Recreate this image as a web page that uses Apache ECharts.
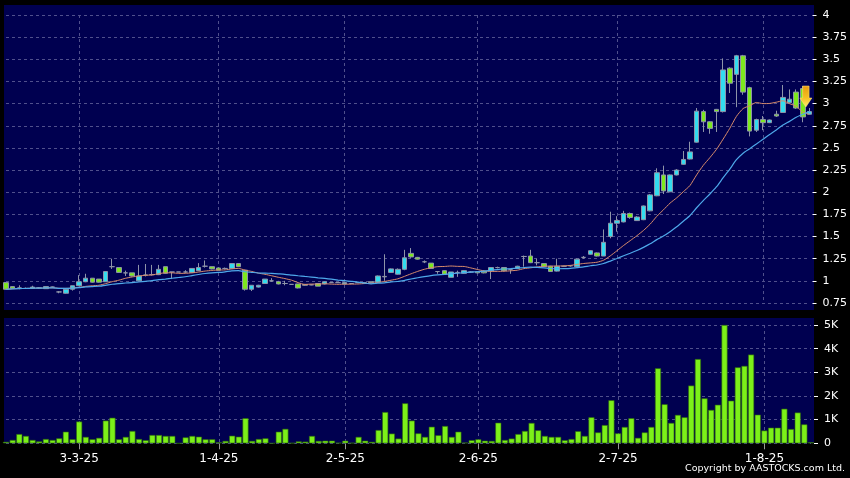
<!DOCTYPE html>
<html>
<head>
<meta charset="utf-8">
<script src="https://cdn.jsdelivr.net/npm/echarts@6/dist/echarts.min.js"></script>
<style>html,body{margin:0;padding:0;background:#000;}#c{width:850px;height:478px;}</style>
</head>
<body>
<div id="c"></div>
<script>
const dates = ['14-2-25','17-2-25','18-2-25','19-2-25','20-2-25','21-2-25','24-2-25','25-2-25','26-2-25','27-2-25','28-2-25',
'3-3-25','4-3-25','5-3-25','6-3-25','7-3-25','10-3-25','11-3-25','12-3-25','13-3-25','14-3-25','17-3-25','18-3-25','19-3-25','20-3-25','21-3-25','24-3-25','25-3-25','26-3-25','27-3-25','28-3-25','31-3-25',
'1-4-25','2-4-25','3-4-25','7-4-25','8-4-25','9-4-25','10-4-25','11-4-25','14-4-25','15-4-25','16-4-25','17-4-25','22-4-25','23-4-25','24-4-25','25-4-25','28-4-25','29-4-25','30-4-25',
'2-5-25','6-5-25','7-5-25','8-5-25','9-5-25','12-5-25','13-5-25','14-5-25','15-5-25','16-5-25','19-5-25','20-5-25','21-5-25','22-5-25','23-5-25','26-5-25','27-5-25','28-5-25','29-5-25','30-5-25',
'2-6-25','3-6-25','4-6-25','5-6-25','6-6-25','9-6-25','10-6-25','11-6-25','12-6-25','13-6-25','16-6-25','17-6-25','18-6-25','19-6-25','20-6-25','23-6-25','24-6-25','25-6-25','26-6-25','27-6-25','30-6-25',
'2-7-25','3-7-25','4-7-25','7-7-25','8-7-25','9-7-25','10-7-25','11-7-25','14-7-25','15-7-25','16-7-25','17-7-25','18-7-25','21-7-25','22-7-25','23-7-25','24-7-25','25-7-25','28-7-25','29-7-25','30-7-25','31-7-25',
'1-8-25','4-8-25','5-8-25','6-8-25','7-8-25','8-8-25','11-8-25','12-8-25'];

const open = [.98,.935,.92,.915,.915,.92,.912,.93,.875,.86,.905,
.945,.99,1.03,1.02,.99,1.16,1.15,1.09,1.09,1.0,1.065,1.07,1.07,1.16,1.1,1.1,1.1,1.095,1.115,1.165,1.16,
1.145,1.14,1.14,1.195,1.12,.905,.93,.97,1.0,.99,.97,.96,.965,.96,.955,.97,.965,.98,.98,
.965,.97,.98,.98,.99,.985,1.05,1.095,1.075,1.13,1.31,1.265,1.215,1.2,1.105,1.115,1.04,1.095,1.085,1.1,
1.105,1.11,1.115,1.15,1.15,1.13,1.14,1.275,1.28,1.205,1.195,1.165,1.11,1.165,1.17,1.16,1.265,1.3,1.315,1.28,1.5,
1.65,1.665,1.76,1.68,1.69,1.79,1.96,2.195,2.005,2.195,2.315,2.375,2.565,2.91,2.795,2.935,2.91,3.4,3.33,3.54,3.18,2.70,
2.82,2.785,2.88,2.90,3.01,3.13,3.17,2.88];
const close = [.905,.915,.92,.915,.93,.92,.935,.93,.875,.905,.945,
.99,1.03,.985,.985,1.105,1.16,1.095,1.09,1.055,1.055,1.065,1.07,1.13,1.085,1.1,1.1,1.1,1.14,1.15,1.165,1.135,
1.12,1.14,1.195,1.16,.905,.95,.95,1.02,1.0,.965,.97,.96,.92,.95,.955,.94,.99,.98,.98,
.98,.97,.98,.97,.98,1.055,1.045,1.135,1.13,1.26,1.27,1.245,1.215,1.14,1.105,1.075,1.1,1.095,1.115,1.1,
1.09,1.09,1.15,1.15,1.115,1.13,1.165,1.275,1.205,1.205,1.16,1.105,1.165,1.165,1.17,1.245,1.265,1.34,1.28,1.435,1.65,
1.68,1.76,1.715,1.72,1.845,1.97,2.22,2.015,2.195,2.25,2.37,2.455,2.915,2.795,2.72,2.91,3.38,3.23,3.54,3.13,2.69,2.82,
2.785,2.815,2.86,3.07,3.05,2.95,2.85,2.91];
const low = [.90,.91,.905,.91,.91,.91,.91,.925,.86,.855,.89,
.94,.985,.98,.98,.99,1.135,1.09,1.055,1.05,1.0,1.05,1.06,1.065,1.08,1.02,1.1,1.09,1.09,1.11,1.15,1.13,
1.12,1.13,1.14,1.16,.89,.885,.925,.97,.99,.96,.95,.96,.915,.945,.95,.94,.96,.975,.98,
.96,.97,.975,.965,.975,.98,1.0,1.09,1.07,1.12,1.26,1.24,1.2,1.135,1.08,1.07,1.04,1.045,1.08,1.09,
1.085,1.085,1.02,1.14,1.11,1.08,1.135,1.16,1.2,1.175,1.155,1.1,1.105,1.16,1.16,1.155,1.25,1.295,1.275,1.28,1.48,
1.555,1.66,1.7,1.675,1.685,1.785,1.955,1.98,2.0,2.19,2.31,2.37,2.56,2.68,2.66,2.68,2.9,3.12,2.96,3.1,2.63,2.68,
2.7,2.78,2.85,2.9,3.0,2.94,2.79,2.88];
const high = [.985,.94,.95,.925,.945,.93,.935,.935,.885,.905,.945,
1.065,1.08,1.03,1.02,1.105,1.25,1.15,1.115,1.09,1.18,1.19,1.18,1.18,1.16,1.1,1.1,1.12,1.14,1.2,1.23,1.16,
1.15,1.15,1.195,1.2,1.12,.95,.955,1.02,1.03,1.0,1.0,.96,.965,.965,.96,.97,.99,.985,.98,
.985,.97,.985,.98,.99,1.06,1.3,1.14,1.14,1.35,1.37,1.27,1.23,1.2,1.11,1.12,1.1,1.115,1.12,1.11,
1.11,1.115,1.155,1.16,1.155,1.135,1.17,1.285,1.35,1.25,1.2,1.17,1.25,1.17,1.175,1.25,1.28,1.345,1.32,1.58,1.78,
1.73,1.79,1.77,1.73,1.85,1.98,2.27,2.3,2.2,2.26,2.465,2.57,2.95,2.93,2.80,2.94,3.51,3.41,3.55,3.55,3.19,2.83,
2.86,2.82,2.92,3.21,3.16,3.16,3.2,2.95];
const volume = [60,140,390,310,140,80,180,140,210,490,170,
920,270,170,230,960,1080,170,270,520,180,130,350,350,310,310,0,250,310,280,170,170,
40,100,320,280,1060,100,180,210,0,490,610,10,80,70,310,100,110,110,20,
110,20,270,110,60,560,1320,410,200,1690,960,420,270,700,340,730,270,490,30,130,
170,110,100,870,140,200,390,520,860,550,310,270,270,130,180,510,310,1100,460,770,1820,
420,690,1060,230,460,690,3170,1650,860,1200,1100,2440,3560,1900,1410,1630,5000,1800,3210,3270,3750,1210,
540,660,660,1460,600,1300,800,40];
const priceTicks = {min: 0.75, max: 4, step: 0.25};
const volTicks = {min: 0, max: 5000, step: 1000};
const maPeriods = [10, 20];

function sma(vals, n) {
  return vals.map((v, i) => {
    const s = Math.max(0, i - n + 1);
    const w = vals.slice(s, i + 1);
    return +(w.reduce((a, b) => a + b, 0) / w.length).toFixed(4);
  });
}
function isMonthStart(i) {
  if (i <= 0) return false;
  return dates[i].split('-')[1] !== dates[i - 1].split('-')[1];
}
const kData = dates.map((d, i) => [open[i], close[i], low[i], high[i]]);
const gridLine = {show: true, lineStyle: {color: '#50508c', type: [3, 3], width: 1}};
const font = 'DejaVu Sans';

const chart = echarts.init(document.getElementById('c'));
chart.setOption({
  backgroundColor: '#000',
  animation: false,
  graphic: [
    {type: 'rect', z: -10, silent: true, shape: {x: 4, y: 5, width: 810, height: 305}, style: {fill: '#000050'}},
    {type: 'rect', z: -10, silent: true, shape: {x: 4, y: 318, width: 810, height: 125.3}, style: {fill: '#000050'}},
    {type: 'text', z: 10, right: 5, top: 464, style: {text: 'Copyright by AASTOCKS.com Ltd.', fill: '#fff', font: '9.5px "DejaVu Sans"'}}
  ],
  grid: [
    {left: 6, right: 39, top: 15, height: 288},
    {left: 6, right: 39, top: 325, height: 118.3}
  ],
  xAxis: [
    {type: 'category', gridIndex: 0, data: dates, boundaryGap: false,
     axisLine: {show: false}, axisTick: {show: false}, axisLabel: {show: false},
     splitLine: Object.assign({interval: (i) => isMonthStart(i)}, gridLine)},
    {type: 'category', gridIndex: 1, data: dates, boundaryGap: false,
     axisLine: {show: false},
     axisTick: {show: true, interval: (i) => isMonthStart(i), length: 6, lineStyle: {color: '#999'}},
     axisLabel: {show: true, interval: (i) => isMonthStart(i), color: '#fff', fontFamily: font, fontSize: 12, margin: 10},
     splitLine: Object.assign({interval: (i) => isMonthStart(i)}, gridLine)}
  ],
  yAxis: [
    {type: 'value', gridIndex: 0, position: 'right', offset: 3, min: priceTicks.min, max: priceTicks.max, interval: priceTicks.step,
     axisLine: {show: false}, axisTick: {show: true, length: 4, lineStyle: {color: '#fff'}},
     axisLabel: {color: '#fff', fontFamily: font, fontSize: 11, margin: 10},
     splitLine: gridLine},
    {type: 'value', gridIndex: 1, position: 'right', offset: 3, min: volTicks.min, max: volTicks.max, interval: volTicks.step,
     axisLine: {show: false}, axisTick: {show: true, length: 4, lineStyle: {color: '#fff'}},
     axisLabel: {color: '#fff', fontFamily: font, fontSize: 11, margin: 10,
       formatter: (v) => v === 0 ? '0' : (v / 1000) + 'K'},
     splitLine: gridLine}
  ],
  series: [
    {type: 'candlestick', xAxisIndex: 0, yAxisIndex: 0, data: kData, barWidth: 5, clip: false,
     itemStyle: {color: '#33dcef', color0: '#7de81e', borderColor: '#8e94a8', borderColor0: '#8e94a8', borderWidth: 1},
     markPoint: {
       symbol: 'path://M3,0 L10,0 L10,12 L13,12 L6.5,21 L0,12 L3,12 Z',
       symbolSize: [12, 21], symbolKeepAspect: false,
       label: {show: false},
       data: [{coord: [120, 3.08], symbolOffset: [3, 0],
         itemStyle: {color: new echarts.graphic.LinearGradient(0, 0, 0, 1, [
           {offset: 0, color: '#e89a10'}, {offset: 0.55, color: '#f5c020'}, {offset: 1, color: '#fff070'}]),
           borderColor: '#ffe680', borderWidth: 0.5}}]
     }},
    {type: 'line', xAxisIndex: 0, yAxisIndex: 0, data: sma(close, maPeriods[0]), symbol: 'none', smooth: 0.2,
     lineStyle: {color: '#d98c6c', width: 1}, z: 3},
    {type: 'line', xAxisIndex: 0, yAxisIndex: 0, data: sma(close, maPeriods[1]), symbol: 'none', smooth: 0.2,
     lineStyle: {color: '#4ea8ea', width: 1.2}, z: 3},
    {type: 'bar', xAxisIndex: 1, yAxisIndex: 1, data: volume, barWidth: 6, clip: false,
     itemStyle: {color: '#7cf019', borderColor: '#2e6a0c', borderWidth: 0.6}}
  ]
});
</script>
</body>
</html>
